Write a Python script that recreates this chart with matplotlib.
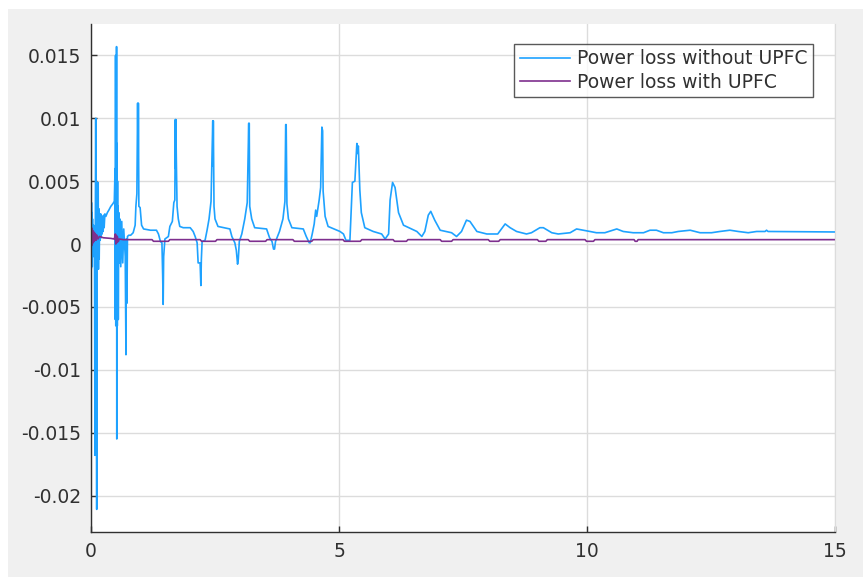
import matplotlib
matplotlib.use('Agg')
import matplotlib.pyplot as plt
from matplotlib.patches import Rectangle
from matplotlib.ticker import FuncFormatter

plt.rcParams['font.family'] = ['DejaVu Sans']
plt.rcParams['axes.unicode_minus'] = False

# power loss without UPFC (time in s, loss)
t_without = [
    0.000, 0.005, 0.010, 0.015, 0.020, 0.025, 0.030, 0.040, 0.050, 0.060,
    0.070, 0.080, 0.088, 0.095, 0.105, 0.115, 0.125, 0.135, 0.145, 0.150,
    0.160, 0.165, 0.175, 0.185, 0.195, 0.205, 0.215, 0.225, 0.235, 0.245,
    0.255, 0.265, 0.280, 0.300, 0.330, 0.360, 0.400, 0.440, 0.470, 0.485,
    0.490, 0.495, 0.500, 0.505, 0.510, 0.515, 0.520, 0.525, 0.530, 0.535,
    0.540, 0.545, 0.550, 0.560, 0.570, 0.580, 0.600, 0.620, 0.640, 0.660,
    0.690, 0.705, 0.710, 0.725, 0.735, 0.760, 0.800, 0.850, 0.890, 0.905,
    0.925, 0.940, 0.950, 0.955, 0.965, 0.990, 1.020, 1.060, 1.200,
    1.320, 1.360, 1.400, 1.430, 1.445, 1.455, 1.465, 1.490, 1.560, 1.590,
    1.640, 1.670, 1.690, 1.700, 1.705, 1.710, 1.720, 1.735, 1.760, 1.790,
    1.860, 2.000, 2.060, 2.100, 2.140, 2.160, 2.200, 2.215, 2.225, 2.240,
    2.300, 2.340, 2.380, 2.420, 2.455, 2.460, 2.466, 2.480, 2.500, 2.560,
    2.800, 2.840, 2.900, 2.930, 2.955, 2.970, 2.990, 3.040, 3.100, 3.150,
    3.180, 3.185, 3.190, 3.200, 3.240, 3.300, 3.540, 3.600, 3.650, 3.680,
    3.700, 3.720, 3.800, 3.870, 3.910, 3.925, 3.935, 3.950, 3.980, 4.050,
    4.280, 4.340, 4.400, 4.420, 4.460, 4.500, 4.530, 4.550, 4.600, 4.630,
    4.655, 4.670, 4.680, 4.720, 4.780, 5.020, 5.090, 5.140, 5.220, 5.270,
    5.320, 5.360, 5.375, 5.390, 5.420, 5.450, 5.520, 5.690, 5.860, 5.930,
    6.000, 6.030, 6.080, 6.130, 6.200, 6.300, 6.570, 6.670, 6.730, 6.800,
    6.850, 6.930, 7.040, 7.270, 7.370, 7.470, 7.570, 7.640, 7.780, 7.980,
    8.200, 8.350, 8.450, 8.580, 8.780, 8.880, 9.050, 9.120, 9.290, 9.420,
    9.660, 9.790, 9.930, 10.060, 10.190, 10.360, 10.600, 10.730, 10.930, 11.140,
    11.270, 11.400, 11.540, 11.710, 11.840, 12.080, 12.280, 12.510, 12.680, 12.880,
    13.050, 13.250, 13.420, 13.590, 13.620, 13.650, 15.000,
]
loss_without = [
    0.0030, -0.0020, 0.0033, -0.0015, 0.0025, -0.0018, 0.0020, -0.0010, 0.0015, -0.0005,
    0.0010, -0.0168, 0.0020, 0.0100, -0.0020, -0.0211, 0.0030, -0.0015, 0.0049, -0.0020,
    0.0028, -0.0012, 0.0022, 0.0003, 0.0024, 0.0005, 0.0022, 0.0008, 0.0022, 0.0010,
    0.0023, 0.0013, 0.0024, 0.0022, 0.0025, 0.0027, 0.0030, 0.0032, 0.0034, 0.0060,
    -0.0060, 0.0150, -0.0065, 0.0078, -0.0060, 0.0157, -0.0155, 0.0080, -0.0065, 0.0050,
    -0.0040, 0.0030, -0.0060, 0.0025, -0.0015, 0.0020, -0.0018, 0.0018, -0.0015, 0.0012,
    -0.0010, -0.0088, 0.0004, -0.0047, 0.0006, 0.0007, 0.0007, 0.0009, 0.0015, 0.0030,
    0.0040, 0.0112, 0.0060, 0.0112, 0.0030, 0.0029, 0.0015, 0.0012, 0.0011,
    0.0011, 0.0008, 0.0002, 0.0001, -0.0025, -0.0048, -0.0010, 0.0004, 0.0006, 0.0014,
    0.0018, 0.0033, 0.0035, 0.0099, 0.0060, 0.0099, 0.0068, 0.0030, 0.0020, 0.0014,
    0.0013, 0.0013, 0.0010, 0.0006, 0.0001, -0.0015, -0.0015, -0.0033, -0.0012, 0.0002,
    0.0003, 0.0011, 0.0020, 0.0034, 0.0098, 0.0062, 0.0098, 0.0030, 0.0020, 0.0014,
    0.0012, 0.0006, 0.0001, -0.0005, -0.0016, -0.0012, 0.0002, 0.0008, 0.0020, 0.0033,
    0.0096, 0.0062, 0.0096, 0.0030, 0.0020, 0.0013, 0.0012, 0.0005, 0.0002, -0.0004,
    -0.0004, 0.0002, 0.0010, 0.0020, 0.0034, 0.0095, 0.0095, 0.0032, 0.0020, 0.0013,
    0.0012, 0.0006, 0.0001, 0.0001, 0.0008, 0.0016, 0.0027, 0.0022, 0.0035, 0.0045,
    0.0093, 0.0090, 0.0042, 0.0022, 0.0014, 0.0010, 0.0008, 0.0003, 0.0003, 0.0049,
    0.0050, 0.0080, 0.0072, 0.0078, 0.0043, 0.0025, 0.0013, 0.0010, 0.0008, 0.0004,
    0.0008, 0.0035, 0.0049, 0.0045, 0.0025, 0.0015, 0.0010, 0.0006, 0.0010, 0.0023,
    0.0026, 0.0019, 0.0011, 0.0009, 0.0006, 0.0010, 0.0019, 0.0018, 0.0010, 0.0008,
    0.0008, 0.0016, 0.0013, 0.0010, 0.0008, 0.0009, 0.0013, 0.0013, 0.0009, 0.0008,
    0.0009, 0.0012, 0.0011, 0.0010, 0.0009, 0.0009, 0.0012, 0.0010, 0.0009, 0.0009,
    0.0011, 0.0011, 0.0009, 0.0009, 0.0010, 0.0011, 0.0009, 0.0009, 0.0010, 0.0011,
    0.0010, 0.0009, 0.0010, 0.0010, 0.0011, 0.0010, 0.00096,
]

# power loss with UPFC
t_with = [
    0.000, 0.005, 0.010, 0.015, 0.020, 0.025, 0.030, 0.040, 0.050, 0.060,
    0.070, 0.080, 0.090, 0.100, 0.120, 0.140, 0.170, 0.250, 0.400, 0.470,
    0.490, 0.500, 0.510, 0.520, 0.530, 0.550, 0.570, 0.650,
    1.230, 1.260, 1.560, 1.590, 2.200, 2.230, 2.510, 2.540,
    3.170, 3.200, 3.520, 3.550, 4.070, 4.100, 4.450, 4.480,
    5.080, 5.110, 5.430, 5.460, 6.090, 6.120, 6.360, 6.390,
    7.040, 7.070, 7.270, 7.300, 8.010, 8.040, 8.220, 8.250,
    9.000, 9.030, 9.170, 9.200, 9.960, 9.990, 10.130, 10.160,
    10.950, 10.970, 11.010, 11.030, 15.000,
]
loss_with = [
    0.0005, -0.0002, 0.0013, -0.0001, 0.0012, 0.0000, 0.0011, 0.0001, 0.0010, 0.0002,
    0.0009, 0.0003, 0.0008, 0.0003, 0.0007, 0.0004, 0.0006, 0.0005, 0.00045, 0.0004,
    0.0008, 0.0000, 0.0007, 0.0001, 0.0006, 0.0002, 0.0004, 0.00035,
    0.00035, 0.00022, 0.00022, 0.00035, 0.00035, 0.00022, 0.00022, 0.00035,
    0.00035, 0.00022, 0.00022, 0.00035, 0.00035, 0.00022, 0.00022, 0.00035,
    0.00035, 0.00022, 0.00022, 0.00035, 0.00035, 0.00022, 0.00022, 0.00035,
    0.00035, 0.00022, 0.00022, 0.00035, 0.00035, 0.00022, 0.00022, 0.00035,
    0.00035, 0.00022, 0.00022, 0.00035, 0.00035, 0.00022, 0.00022, 0.00035,
    0.00035, 0.00022, 0.00022, 0.00035, 0.00035,
]

x_ticks = [0, 5, 10, 15]
y_ticks = [-0.02, -0.015, -0.01, -0.005, 0, 0.005, 0.01, 0.015]

txt = '#303030'
fig = plt.figure(figsize=(8.63, 5.77), dpi=100, facecolor='white')
# grey figure panel, white strip left/top like the screenshot
fig.patches.append(Rectangle((8 / 863, 0), 1, (577 - 9) / 577, transform=fig.transFigure,
                             facecolor='#f0f0f0', edgecolor='none', zorder=-10))

ax = fig.add_axes([91 / 863, 45 / 577, 744 / 863, 508 / 577])
ax.set_zorder(1)
ax.set_facecolor('white')

ax.plot(t_without, loss_without, color='#1ea2ff', lw=1.2, label='Power loss without UPFC')
ax.plot(t_with, loss_with, color='#7e2f8e', lw=1.2, label='Power loss with UPFC')

ax.set_xlim(0, 15)
ax.set_ylim(-0.0229, 0.0175)
ax.set_xticks(x_ticks)
ax.set_yticks(y_ticks)
ax.yaxis.set_major_formatter(FuncFormatter(lambda v, p: '%g' % v))
ax.grid(True, color='#dcdcdc', lw=1)
ax.set_axisbelow(True)

ax.spines['top'].set_visible(False)
ax.spines['right'].set_color('#dcdcdc')
for s in ['left', 'bottom']:
    ax.spines[s].set_color(txt)
    ax.spines[s].set_linewidth(1)
ax.tick_params(direction='in', length=4.5, width=1, color=txt, labelcolor=txt,
               labelsize=13.5, pad=7, top=False, right=False)

leg = ax.legend(loc='upper right', bbox_to_anchor=((813 - 91) / 744, (532 - 44) / 508),
                borderaxespad=0, fontsize=13.5, frameon=True, fancybox=False,
                handlelength=2.7, handletextpad=0.38, labelspacing=0.25,
                borderpad=0.28)
leg.get_frame().set_edgecolor(txt)
leg.get_frame().set_linewidth(1)
for t in leg.get_texts():
    t.set_color(txt)

fig.savefig('out.png', dpi=100, facecolor=fig.get_facecolor())
